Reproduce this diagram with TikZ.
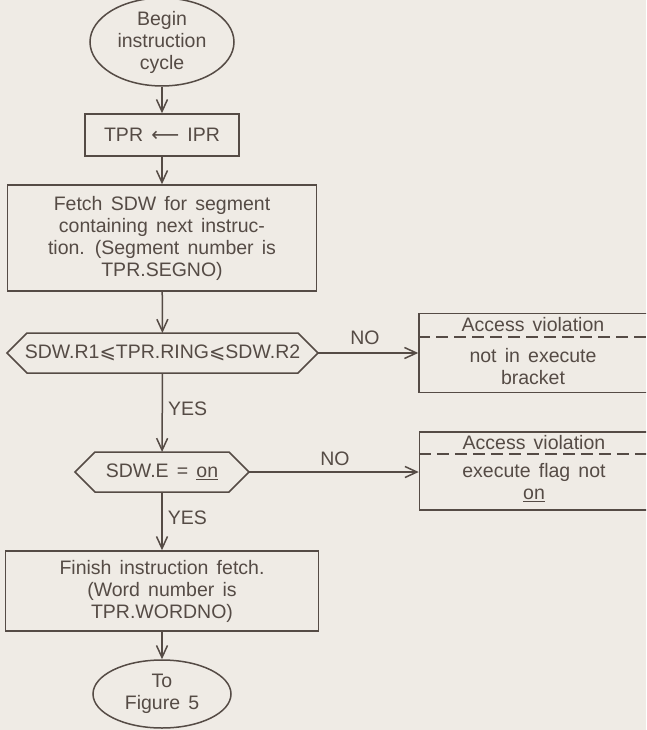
\documentclass[tikz,border=0pt]{standalone}
\usepackage{fontspec}
\setmainfont{Liberation Sans}
\newfontfamily\symfont{DejaVu Sans}
\usetikzlibrary{arrows.meta,shapes.geometric}
\definecolor{paper}{HTML}{EFEBE5}
\definecolor{ink}{HTML}{554B45}
\newcommand{\flowfont}{\fontsize{19.5}{22}\selectfont\spaceskip=0.42em plus 0.1em minus 0.05em\relax}
\begin{document}
\begin{tikzpicture}[x=1pt,y=-1pt,
  every node/.style={text=ink,font=\flowfont},
  line/.style={draw=ink,line width=1.5pt},
  flow/.style={line,-{Straight Barb[length=12pt,width=11pt,line width=1.5pt]}},
  terminal/.style={line,ellipse,inner sep=0pt,align=center},
  procbox/.style={line,rectangle,inner sep=0pt,align=center},
  hexbox/.style={rectangle,inner sep=0pt,outer sep=0pt,minimum height=40pt},
  errbox/.style={line,rectangle,inner sep=0pt,minimum width=229pt},
  lbl/.style={inner sep=0pt}]
\useasboundingbox (0,0) rectangle (646,730);
\fill[paper] (0,0) rectangle (646,730);
\clip (0,0) rectangle (646,730);

% main flow
\node[terminal,minimum width=144pt,minimum height=82pt] (begin) at (162,42)
  {Begin\\instruction\\cycle};
\node[procbox,minimum width=154pt,minimum height=42pt] (tpr) at (162,135)
  {TPR {\symfont ⟵} IPR};
\node[procbox,minimum width=309pt,minimum height=106pt] (fetch) at (162,238)
  {Fetch SDW for segment\\containing next instruc-\\tion. (Segment number is\\TPR.SEGNO)};
\node[hexbox,minimum width=311pt] (ring) at (162.5,353)
  {SDW.R1{\symfont ⩽}TPR.RING{\symfont ⩽}SDW.R2};
\node[hexbox,minimum width=174pt] (exec) at (162,472)
  {SDW.E = \underline{on}};
\node[procbox,minimum width=313pt,minimum height=80pt] (finish) at (162,591)
  {Finish instruction fetch.\\(Word number is\\TPR.WORDNO)};
\node[terminal,minimum width=138pt,minimum height=68pt] (next) at (162,694)
  {To\\Figure 5};

% hexagonal decision outlines
\draw[line,line join=miter] ([xshift=20pt]ring.north west) -- ([xshift=-20pt]ring.north east)
  -- (ring.east) -- ([xshift=-20pt]ring.south east) -- ([xshift=20pt]ring.south west)
  -- (ring.west) -- cycle;
\draw[line,line join=miter] ([xshift=20pt]exec.north west) -- ([xshift=-20pt]exec.north east)
  -- (exec.east) -- ([xshift=-20pt]exec.south east) -- ([xshift=20pt]exec.south west)
  -- (exec.west) -- cycle;

% access violation boxes
\node[errbox,minimum height=79pt] (av1) at (533.5,353) {};
\coordinate (d1) at (0,337);
\draw[line,dashed,dash pattern=on 12pt off 6pt] (av1.west |- d1) -- (av1.east |- d1);
\node[lbl] (av1h) at (533,325) {Access violation};
\node[lbl,align=center] (av1t) at (533,367) {not in execute\\bracket};

\node[errbox,minimum height=78pt] (av2) at (534,471) {};
\coordinate (d2) at (0,454);
\draw[line,dashed,dash pattern=on 12pt off 6pt] (av2.west |- d2) -- (av2.east |- d2);
\node[lbl] (av2h) at (534,443) {Access violation};
\node[lbl,align=center] (av2t) at (534,483) {execute flag not\\\underline{on}};

% connectors
\draw[flow] (begin) -- (tpr);
\draw[flow] (tpr) -- (fetch);
\draw[flow] (fetch) -- (ring);
\draw[flow] (ring) -- node[lbl,right=5pt,pos=0.45] (yes1) {YES} (exec);
\draw[flow] (exec) -- node[lbl,right=5pt,pos=0.45] (yes2) {YES} (finish);
\draw[flow] (finish) -- (next);
\draw[flow] (ring.east) -- (av1.west |- ring.east);
\draw[flow] (exec.east) -- (av2.west |- exec.east);
\node[lbl] (no1) at (365,338) {NO};
\node[lbl] (no2) at (335,459) {NO};
\end{tikzpicture}
\end{document}
